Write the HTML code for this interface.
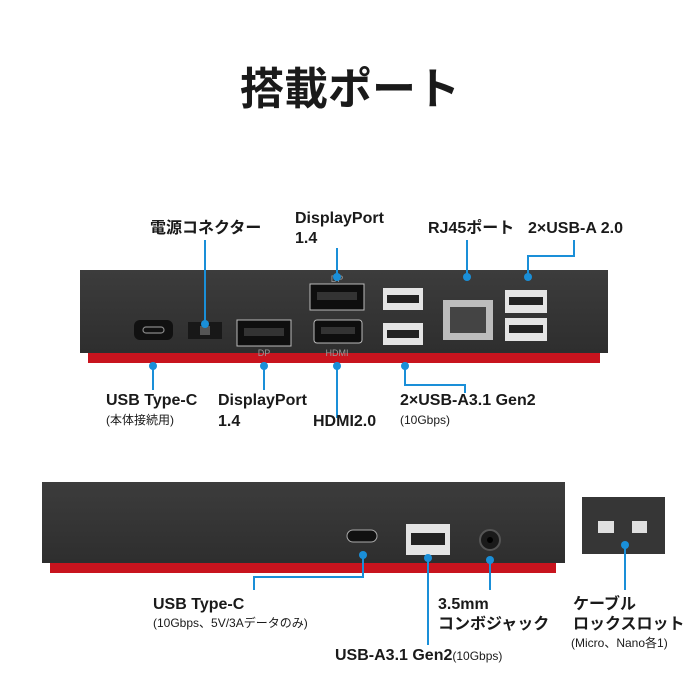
<!DOCTYPE html>
<html><head><meta charset="utf-8"><style>
html,body{margin:0;padding:0;background:#fff;width:700px;height:700px;overflow:hidden}
svg text{font-family:"Liberation Sans","Noto Sans CJK JP",sans-serif;fill:#1a1a1a}
</style></head><body>
<svg width="700" height="700" viewBox="0 0 700 700" xmlns="http://www.w3.org/2000/svg">
<defs>
<linearGradient id="bd" x1="0" y1="0" x2="0" y2="1"><stop offset="0" stop-color="#3c3c3c"/><stop offset="1" stop-color="#2e2e2e"/></linearGradient>
</defs>
<text x="350" y="104" font-size="44" font-weight="bold" text-anchor="middle" style="font-family:'Noto Sans CJK JP',sans-serif">搭載ポート</text>

<!-- top dock -->
<rect x="88" y="350" width="512" height="13" fill="#c8141e"/>
<rect x="80" y="270" width="528" height="83" fill="url(#bd)"/>
<rect x="134" y="320" width="39" height="20" rx="6" fill="#111"/>
<rect x="143" y="327" width="21" height="6" rx="3" fill="none" stroke="#888" stroke-width="1.2"/>
<rect x="188" y="322" width="34" height="17" fill="#181818"/>
<rect x="200" y="326" width="10" height="9" fill="#555"/>
<rect x="237" y="320" width="54" height="26" fill="#0e0e0e" stroke="#bbb" stroke-width="1"/>
<rect x="244" y="328" width="40" height="8" fill="#333"/>
<rect x="310" y="284" width="54" height="26" fill="#0e0e0e" stroke="#bbb" stroke-width="1"/>
<rect x="317" y="292" width="40" height="8" fill="#333"/>
<rect x="314" y="320" width="48" height="23" rx="3" fill="#0e0e0e" stroke="#bbb" stroke-width="1"/>
<rect x="321" y="327" width="34" height="7" fill="#333"/>
<rect x="383" y="288" width="40" height="22" fill="#e4e4e4"/><rect x="387" y="295" width="32" height="8" fill="#222"/>
<rect x="383" y="323" width="40" height="22" fill="#e4e4e4"/><rect x="387" y="330" width="32" height="8" fill="#222"/>
<rect x="443" y="300" width="50" height="40" fill="#bcbcbc"/>
<rect x="450" y="307" width="36" height="26" fill="#444"/>
<rect x="505" y="290" width="42" height="23" fill="#e4e4e4"/><rect x="509" y="297" width="34" height="8" fill="#222"/>
<rect x="505" y="318" width="42" height="23" fill="#e4e4e4"/><rect x="509" y="325" width="34" height="8" fill="#222"/>
<g fill="#999" font-size="9"><text x="337" y="282" text-anchor="middle" style="fill:#999">DP</text><text x="264" y="356" text-anchor="middle" style="fill:#999">DP</text><text x="337" y="356" text-anchor="middle" style="fill:#999">HDMI</text></g>

<!-- top connectors -->
<g stroke="#1a8fd8" stroke-width="2" fill="none">
<path d="M205 240V324"/><path d="M153 366V390"/><path d="M264 366V390"/><path d="M337 248V277"/>
<path d="M337 366V418"/><path d="M405 366V385H465V393"/><path d="M467 240V277"/><path d="M574 240V256H528V277"/>
</g>
<g fill="#1a8fd8">
<circle cx="205" cy="324" r="4"/><circle cx="153" cy="366" r="4"/><circle cx="264" cy="366" r="4"/><circle cx="337" cy="277" r="4"/>
<circle cx="337" cy="366" r="4"/><circle cx="405" cy="366" r="4"/><circle cx="467" cy="277" r="4"/><circle cx="528" cy="277" r="4"/>
</g>
<g font-size="16" font-weight="bold">
<text x="150" y="233">電源コネクター</text>
<text x="295" y="223">DisplayPort</text><text x="295" y="243">1.4</text>
<text x="428" y="233">RJ45ポート</text>
<text x="528" y="233">2×USB-A 2.0</text>
<text x="106" y="405">USB Type-C</text>
<text x="218" y="405">DisplayPort</text><text x="218" y="426">1.4</text>
<text x="313" y="426">HDMI2.0</text>
<text x="400" y="405">2×USB-A3.1 Gen2</text>
</g>
<g font-size="12"><text x="106" y="424">(本体接続用)</text><text x="400" y="424">(10Gbps)</text></g>

<!-- bottom dock -->
<rect x="50" y="560" width="506" height="13" fill="#c8141e"/>
<rect x="42" y="482" width="523" height="81" fill="url(#bd)"/>
<rect x="347" y="530" width="30" height="12" rx="6" fill="#111" stroke="#aaa" stroke-width="1"/>
<rect x="406" y="524" width="44" height="31" fill="#e4e4e4"/><rect x="411" y="533" width="34" height="12" fill="#222"/>
<circle cx="490" cy="540" r="10" fill="#1a1a1a" stroke="#555" stroke-width="2"/><circle cx="490" cy="540" r="3" fill="#000"/>
<rect x="582" y="497" width="83" height="57" fill="#363636"/>
<rect x="598" y="521" width="16" height="12" fill="#e0e0e0"/><rect x="632" y="521" width="15" height="12" fill="#e0e0e0"/>
<g stroke="#1a8fd8" stroke-width="2" fill="none">
<path d="M363 555V577H254V590"/><path d="M428 558V645"/><path d="M490 560V590"/><path d="M625 545V590"/>
</g>
<g fill="#1a8fd8"><circle cx="363" cy="555" r="4"/><circle cx="428" cy="558" r="4"/><circle cx="490" cy="560" r="4"/><circle cx="625" cy="545" r="4"/></g>
<g font-size="16" font-weight="bold">
<text x="153" y="609">USB Type-C</text>
<text x="438" y="609">3.5mm</text><text x="438" y="629">コンボジャック</text>
<text x="573" y="609">ケーブル</text><text x="573" y="629">ロックスロット</text>
<text x="335" y="660">USB-A3.1 Gen2<tspan font-size="12" font-weight="normal">(10Gbps)</tspan></text>
</g>
<g font-size="12"><text x="153" y="627">(10Gbps、5V/3Aデータのみ)</text><text x="571" y="647">(Micro、Nano各1)</text></g>
</svg>
</body></html>
